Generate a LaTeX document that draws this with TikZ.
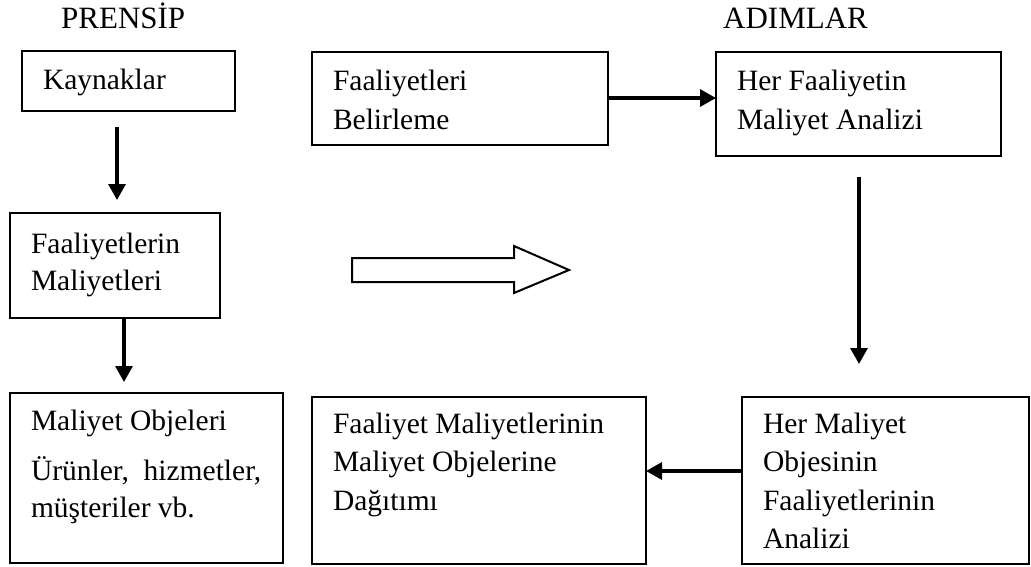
\documentclass[tikz,border=0pt]{standalone}
\usepackage{fontspec}
\setmainfont{Liberation Serif}
\usetikzlibrary{arrows.meta}

% box body: width, height, height above first baseline, lines
\newcommand\cellbody[4]{%
  \parbox[t][#2][t]{#1}{\raggedright\leftskip=21pt\relax\rule{0pt}{#3}#4}}

\begin{document}
\begin{tikzpicture}[x=1pt, y=-1pt,
  cell/.style={draw, line width=2pt, inner sep=0pt, outer sep=0pt,
    anchor=north west, font=\fontsize{29.5}{38}\selectfont},
  heading/.style={anchor=base west, inner sep=0pt, font=\fontsize{31}{36}\selectfont},
  arr/.style={line width=3.2pt, -{Triangle[width=17pt,length=16pt]}},
  hollow/.style={draw, line width=2pt, fill=white}]

\useasboundingbox (0,0) rectangle (1031,566);

% headings
\node[heading] (prensip) at (61,28) {PRENSİP};
\node[heading] (adimlar) at (723,28) {ADIMLAR};

% left column: principle
\node[cell] (kay) at (22,51)
  {\cellbody{213pt}{60pt}{38pt}{Kaynaklar}};
\node[cell] (fmal) at (10,213)
  {\cellbody{210pt}{105pt}{40pt}{Faaliyetlerin\\[-1pt]Maliyetleri}};
\node[cell] (mobj) at (10,393)
  {\cellbody{273pt}{170pt}{37pt}{Maliyet Objeleri\\[12pt]Ürünler,\ \ hizmetler,\\[-1pt]müşteriler vb.}};

% right part: steps
\node[cell] (fbel) at (312,52)
  {\cellbody{296pt}{93pt}{38pt}{Faaliyetleri\\[1pt]Belirleme}};
\node[cell] (hfaal) at (716,52)
  {\cellbody{285pt}{104pt}{38pt}{Her Faaliyetin\\[1pt]Maliyet Analizi}};
\node[cell] (fmdag) at (312,397)
  {\cellbody{334pt}{167pt}{36pt}{Faaliyet Maliyetlerinin\\[0.5pt]Maliyet Objelerine\\[0.5pt]Dağıtımı}};
\node[cell] (hmobj) at (742,397)
  {\cellbody{287pt}{167pt}{36pt}{Her Maliyet\\[0.5pt]Objesinin\\[0.5pt]Faaliyetlerinin\\[0.5pt]Analizi}};

% connectors
\draw[arr, shorten <=16pt, shorten >=13pt] (kay.south -| 117,0) -- (fmal.north -| 117,0);
\draw[arr, shorten >=11pt] (fmal.south -| 124,0) -- (mobj.north -| 124,0);
\draw[arr] (fbel.east |- 0,98) -- (hfaal.west |- 0,98);
\draw[arr, shorten <=21pt, shorten >=33pt] (hfaal.south -| 859,0) -- (hmobj.north -| 859,0);
\draw[arr] (hmobj.west |- 0,471) -- (fmdag.east |- 0,471);

% hollow block arrow between the two halves
\path[hollow] (352,258) -- (514,258) -- (514,246) -- (569,270)
  -- (514,293) -- (514,282) -- (352,282) -- cycle;

\end{tikzpicture}
\end{document}
